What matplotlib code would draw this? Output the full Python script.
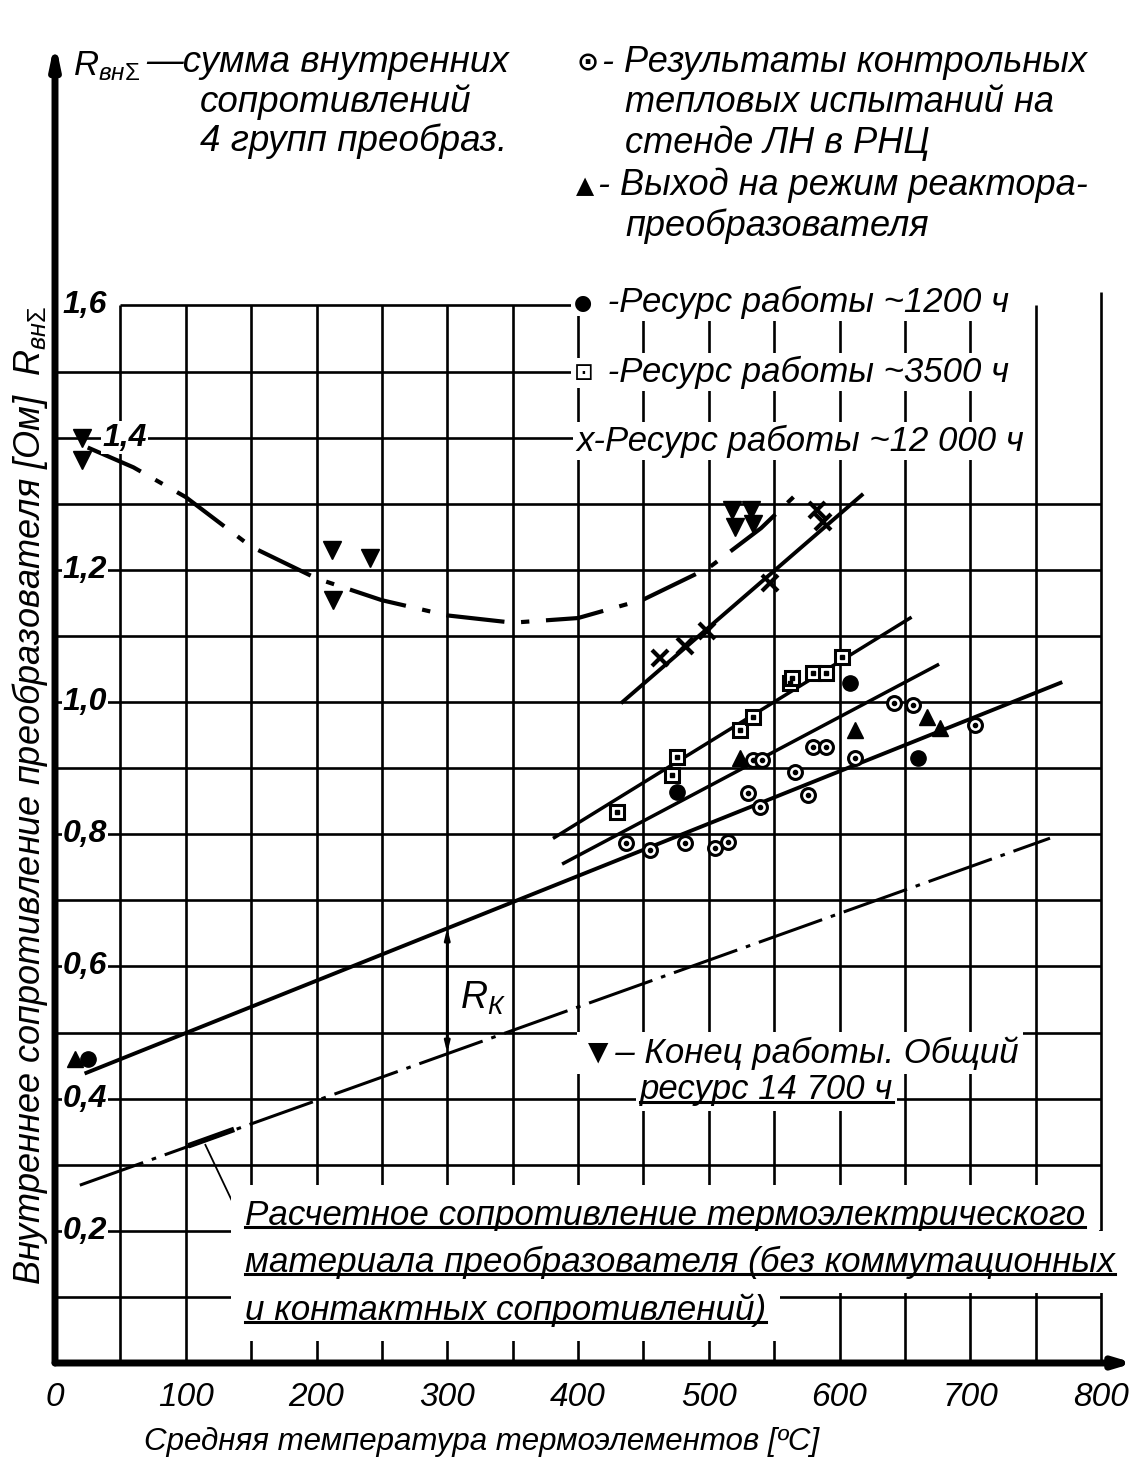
import numpy as np
import matplotlib
matplotlib.use("Agg")
import matplotlib.pyplot as plt
from matplotlib.lines import Line2D
from matplotlib.transforms import IdentityTransform

plt.rcParams['font.family'] = ['Liberation Sans', 'DejaVu Sans']
plt.rcParams['mathtext.fontset'] = 'custom'
plt.rcParams['mathtext.rm'] = 'Liberation Sans'
plt.rcParams['mathtext.it'] = 'Liberation Sans:italic'
plt.rcParams['mathtext.bf'] = 'Liberation Sans:bold'

W, H = 1134, 1462

# --- данные (температура, °C ; сопротивление, Ом) ---
# результаты контрольных тепловых испытаний (кружок с точкой)
t_ctrl = [437, 455, 482, 505, 515, 530, 539, 534, 541, 566, 576, 580, 590, 612, 642, 656, 704]
r_ctrl = [0.787, 0.776, 0.787, 0.779, 0.788, 0.862, 0.841, 0.912, 0.912, 0.894, 0.859,
          0.932, 0.932, 0.915, 0.998, 0.995, 0.965]
# выход на режим (треугольник)
t_start = [15, 524, 612, 667, 677]
r_start = [0.46, 0.915, 0.958, 0.977, 0.96]
# ресурс ~1200 ч
t_1200 = [25, 476, 608, 660]
r_1200 = [0.46, 0.864, 1.029, 0.915]
# ресурс ~3500 ч
t_3500 = [430, 472, 476, 524, 534, 562, 564, 580, 590, 602]
r_3500 = [0.834, 0.89, 0.917, 0.958, 0.977, 1.029, 1.036, 1.044, 1.044, 1.068]
# ресурс ~12000 ч
t_12000 = [463, 482, 499, 547, 587, 583]
r_12000 = [1.067, 1.084, 1.107, 1.18, 1.272, 1.29]
# конец работы, 14700 ч
t_end = [21, 21, 212, 241, 213, 518, 532, 520, 534]
r_end = [1.40, 1.366, 1.23, 1.218, 1.154, 1.29, 1.29, 1.265, 1.27]

# линии
t_main, r_main = [24, 769], [0.439, 1.029]
t_lineB, r_lineB = [389, 675], [0.756, 1.056]
t_lineC, r_lineC = [382, 654], [0.795, 1.127]
t_lineD, r_lineD = [434, 617], [1.0, 1.313]
t_calc, r_calc = [19, 761], [0.269, 0.794]
t_curve = [25, 60, 100, 150, 200, 250, 300, 350, 400, 450, 500, 540, 570]
r_curve = [1.385, 1.355, 1.31, 1.235, 1.187, 1.154, 1.131, 1.12, 1.127, 1.155, 1.203, 1.263, 1.32]

x_ticks = [0, 100, 200, 300, 400, 500, 600, 700, 800]
y_ticks = ['1,6', '1,4', '1,2', '1,0', '0,8', '0,6', '0,4', '0,2']
y_tick_vals = [1.6, 1.4, 1.2, 1.0, 0.8, 0.6, 0.4, 0.2]

fig = plt.figure(figsize=(W / 100, H / 100), dpi=100)
fig.patch.set_facecolor('white')
ax = fig.add_axes([55 / W, (H - 1363) / H, (W - 55) / W, (1363 - 41) / H])
ax.set_xlim(0, (W - 55) / 1.3075)
ax.set_ylim(0, 1322 / 661)
ax.axis('off')


def px(x, y):
    return x / W, 1 - y / H


# сетка
for t in range(50, 801, 50):
    ax.vlines(t, 0, 1.6 if t < 800 else 1.62, color='k', lw=1.9, zorder=1)
for i in range(1, 17):
    v = i / 10
    if v > 1.35:
        t0 = 50 if i == 16 else 0
        ax.hlines(v, t0, 400, color='k', lw=1.9, zorder=1)
    else:
        ax.hlines(v, 0, 800, color='k', lw=1.9, zorder=1)

# оси со стрелками
ax.annotate('', xy=(0, 2.0), xytext=(0, 0), annotation_clip=False,
            arrowprops=dict(arrowstyle='-|>,head_length=1.2,head_width=0.25', lw=5, color='k',
                            shrinkA=0, shrinkB=0))
ax.annotate('', xy=(825, 0), xytext=(0, 0), annotation_clip=False,
            arrowprops=dict(arrowstyle='-|>,head_length=1.0,head_width=0.3', lw=5, color='k',
                            shrinkA=0, shrinkB=0))

# линии
ax.plot(t_main, r_main, color='k', lw=2.8, zorder=3)
ax.plot(t_lineB, r_lineB, color='k', lw=2.5, zorder=3)
ax.plot(t_lineC, r_lineC, color='k', lw=2.5, zorder=3)
ax.plot(t_lineD, r_lineD, color='k', lw=2.8, zorder=3)
ax.plot(t_calc, r_calc, color='k', lw=2.2, dashes=(22, 3, 1.5, 3), zorder=3)
ax.plot(t_curve, r_curve, color='k', lw=3, dashes=(14, 4, 2, 4), zorder=3)
ax.plot([104, 135], [0.330, 0.352], color='k', lw=4, zorder=3)
ax.plot([115, 145], [0.33, 0.205], color='k', lw=1.3, zorder=3)

# R_K
ax.annotate('', xy=(300, 0.469), xytext=(300, 0.658),
            arrowprops=dict(arrowstyle='<|-|>,head_length=0.6,head_width=0.15', lw=2, color='k',
                            shrinkA=0, shrinkB=0), zorder=4)
ax.text(310, 0.552, r'$R_{\mathit{К}}$', fontsize=27, va='center', ha='left', style='italic')

# точки
ax.plot(t_ctrl, r_ctrl, 'o', ms=10, mfc='white', mec='k', mew=2.2, zorder=5)
ax.plot(t_ctrl, r_ctrl, 'o', ms=3, color='k', zorder=6)
ax.plot(t_start, r_start, '^', ms=12, color='k', zorder=5)
ax.plot(t_1200, r_1200, 'o', ms=11, color='k', zorder=5)
ax.plot(t_3500, r_3500, 's', ms=10, mfc='white', mec='k', mew=2.2, zorder=5)
ax.plot(t_3500, r_3500, 's', ms=3, color='k', zorder=6)
ax.plot(t_12000, r_12000, 'x', ms=11, color='k', mew=3, zorder=5)
ax.plot(t_end, r_end, 'v', ms=13, color='k', zorder=5)

# подписи оси Y
wbox = dict(facecolor='white', edgecolor='none', pad=1)
for lab, v in zip(y_ticks, y_tick_vals):
    t0 = 36 if lab == '1,4' else 6
    ax.text(t0, v, lab, fontsize=23, style='italic', fontweight='bold', ha='left', va='center',
            bbox=wbox, zorder=7)

# подписи оси X
for t in x_ticks:
    fig.text(*px(55 + 1.3075 * t, 1398), str(t), fontsize=24, style='italic', ha='center', va='center')
fig.text(*px(482, 1442), 'Средняя температура термоэлементов [ºC]', fontsize=22.5, style='italic',
         ha='center', va='center')
fig.text(*px(30, 795), r'Внутреннее сопротивление преобразователя [Ом]  $R_{\mathit{вн}\Sigma}$',
         fontsize=26, style='italic', rotation=90, ha='center', va='center')

# пояснения
narrow = ['Liberation Sans Narrow', 'Liberation Sans', 'DejaVu Sans']
fig.text(*px(73, 66), r'$R_{\mathit{вн}\Sigma}$', fontsize=25, ha='left', va='center')
fig.text(*px(146, 62), '—сумма внутренних', fontsize=26.5, style='italic', family=narrow, ha='left', va='center')
fig.text(*px(200, 102), 'сопротивлений', fontsize=26.5, style='italic', family=narrow, ha='left', va='center')
fig.text(*px(200, 141), '4 групп преобраз.', fontsize=26.5, style='italic', family=narrow, ha='left', va='center')

fig.text(*px(577, 63), '⊙', fontsize=19, fontweight='bold', family=['DejaVu Sans'], ha='left', va='center')
fig.text(*px(602, 62), '- Результаты контрольных', fontsize=26, style='italic', family=narrow, ha='left', va='center')
fig.text(*px(625, 103), 'тепловых испытаний на', fontsize=26, style='italic', family=narrow, ha='left', va='center')
fig.text(*px(625, 143), 'стенде ЛН в РНЦ', fontsize=26, style='italic', family=narrow, ha='left', va='center')
fig.text(*px(576, 186), '▲', fontsize=17, family=['DejaVu Sans'], ha='left', va='center')
fig.text(*px(598, 185), '- Выход на режим реактора-', fontsize=26, style='italic', family=narrow, ha='left', va='center')
fig.text(*px(625, 226), 'преобразователя', fontsize=26, style='italic', family=narrow, ha='left', va='center')

rowbox = dict(facecolor='white', edgecolor='none', pad=2)
fig.text(*px(574, 303), '●', fontsize=15, family=['DejaVu Sans'], ha='left', va='center', bbox=rowbox, zorder=8)
fig.text(*px(598, 302), ' -Ресурс работы ~1200 ч', fontsize=25, style='italic', ha='left', va='center',
         bbox=rowbox, zorder=8)
fig.text(*px(574, 373), '⊡', fontsize=17, family=['DejaVu Sans'], ha='left', va='center', bbox=rowbox, zorder=8)
fig.text(*px(598, 372), ' -Ресурс работы ~3500 ч', fontsize=25, style='italic', ha='left', va='center',
         bbox=rowbox, zorder=8)
fig.text(*px(576, 441), 'x-Ресурс работы ~12 000 ч', fontsize=25, style='italic', ha='left', va='center',
         bbox=rowbox, zorder=8)

fig.text(*px(581, 1053), '▼– Конец работы. Общий', fontsize=25, style='italic', ha='left', va='center',
         bbox=dict(facecolor='white', edgecolor='none', pad=3), zorder=9)
t_res = fig.text(*px(640, 1090), 'ресурс 14 700 ч', fontsize=25, style='italic', ha='left', va='center',
                 bbox=dict(facecolor='white', edgecolor='none', pad=3), zorder=8)

notes = ['Расчетное сопротивление термоэлектрического',
         'материала преобразователя (без коммутационных',
         'и контактных сопротивлений)']
under = [t_res]
for s, y in zip(notes, [1215, 1262, 1310]):
    under.append(fig.text(*px(245, y), s, fontsize=25.2, style='italic', ha='left', va='center',
                          bbox=dict(facecolor='white', edgecolor='none', pad=10), zorder=8))

fig.canvas.draw()
for t in under:
    bb = t.get_window_extent()
    yl = bb.y0 + 0.14 * bb.height
    fig.add_artist(Line2D([bb.x0, bb.x1], [yl, yl], transform=IdentityTransform(), color='k', lw=2.2,
                          zorder=10))

fig.savefig('out.png', dpi=100, facecolor='white')
